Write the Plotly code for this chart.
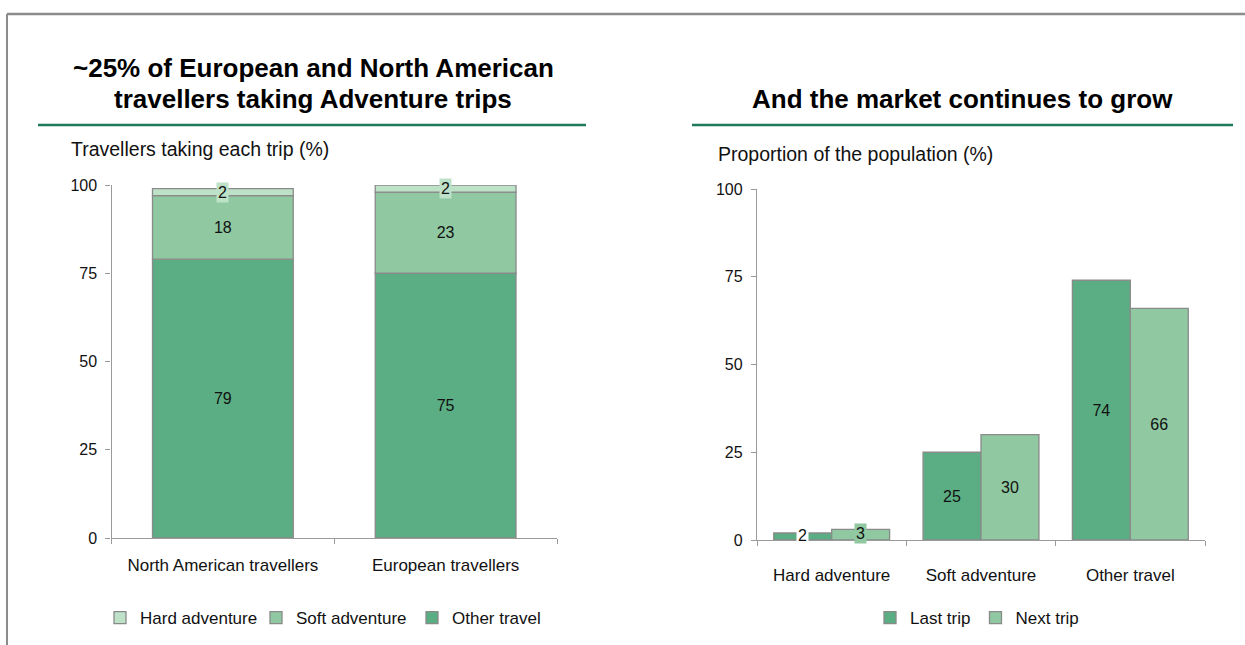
import numpy as np
import plotly.graph_objects as go

# ---- data -------------------------------------------------------------
regions = ["North American travellers", "European travellers"]
other_travel = [79, 75]
soft_adventure = [18, 23]
hard_adventure = [2, 2]

trip_types = ["Hard adventure", "Soft adventure", "Other travel"]
last_trip = [2, 25, 74]
next_trip = [3, 30, 66]

left_ticks = [0, 25, 50, 75, 100]
right_ticks = [0, 25, 50, 75, 100]

# ---- styling ----------------------------------------------------------
W, H = 1245, 645
FONT = "Liberation Sans, Arial, Helvetica, sans-serif"
C_OTHER = "#5BAE83"
C_SOFT = "#8FC8A1"
C_HARD = "#BEE2C8"
C_OUTLINE = "#8A8A8A"
C_AXIS = "#9A9A9A"
C_RULE = "#1F7A5A"
C_FRAME = "#8C8C8C"
TXT = "#111111"


def px(x):
    return x / W


def py(y):
    return 1 - y / H


fig = go.Figure()

# ---- left: stacked share of travellers ---------------------------------
stack_w = 0.632
base_soft = np.array(other_travel)
base_hard = base_soft + np.array(soft_adventure)

for name, vals, base, col in [
    ("Other travel", other_travel, [0, 0], C_OTHER),
    ("Soft adventure", soft_adventure, base_soft, C_SOFT),
    ("Hard adventure", hard_adventure, base_hard, C_HARD),
]:
    small = name == "Hard adventure"
    fig.add_trace(go.Bar(
        x=regions, y=vals, base=list(base), name=name,
        width=stack_w, offset=-stack_w / 2,
        marker=dict(color=col, line=dict(color=C_OUTLINE, width=1.3)),
        text=[str(v) for v in vals],
        textposition="none" if small else "inside",
        insidetextanchor="middle",
        textfont=dict(family=FONT, size=16, color=TXT),
        constraintext="none",
        xaxis="x", yaxis="y", legend="legend",
        hoverinfo="skip",
    ))

# small hard-adventure values get a label box over the top of the stack
for i, (b, v) in enumerate(zip(base_hard, hard_adventure)):
    fig.add_annotation(
        x=i, y=b + v / 2, xref="x", yref="y", text=str(v), showarrow=False,
        font=dict(family=FONT, size=16, color=TXT),
        bgcolor=C_HARD, borderpad=1,
    )

# ---- right: last trip vs next trip -------------------------------------
grp_w = 0.388
small_cat = [c == "Hard adventure" for c in trip_types]
for name, vals, off, col, lab_bg in [
    ("Last trip", last_trip, -grp_w, C_OTHER, "white"),
    ("Next trip", next_trip, 0.0, C_SOFT, C_SOFT),
]:
    fig.add_trace(go.Bar(
        x=trip_types, y=vals, name=name,
        width=grp_w, offset=off,
        marker=dict(color=col, line=dict(color=C_OUTLINE, width=1.3)),
        text=[str(v) for v in vals],
        textposition=["none" if s else "inside" for s in small_cat],
        insidetextanchor="middle",
        textfont=dict(family=FONT, size=16, color=TXT),
        constraintext="none",
        xaxis="x2", yaxis="y2", legend="legend2",
        hoverinfo="skip",
    ))
    for i, (v, s) in enumerate(zip(vals, small_cat)):
        if s:
            fig.add_annotation(
                x=i + off + grp_w / 2, y=v / 2 + 0.3, xref="x2", yref="y2",
                text=str(v), showarrow=False,
                font=dict(family=FONT, size=16, color=TXT),
                bgcolor=lab_bg, borderpad=1,
            )

axis_common = dict(
    showline=True, linecolor=C_AXIS, linewidth=1.3,
    ticks="outside", ticklen=5, tickcolor=C_AXIS, tickwidth=1.3,
    showgrid=False, zeroline=False, fixedrange=True, automargin=False,
    tickfont=dict(family=FONT, size=16, color=TXT),
)
cat_font = dict(family=FONT, size=17, color=TXT)

fig.update_layout(
    width=W, height=H, autosize=False,
    margin=dict(l=0, r=0, t=0, b=0, pad=0, autoexpand=False),
    paper_bgcolor="white", plot_bgcolor="white",
    barmode="overlay",
    font=dict(family=FONT, color=TXT),
    xaxis=dict(domain=[px(111.5), px(557)], range=[-0.5, 1.5],
               type="category", tickson="boundaries", anchor="y",
               ticklabelstandoff=11, **{**axis_common, "tickfont": cat_font}),
    yaxis=dict(domain=[py(538), py(185)], range=[0, 100], anchor="x",
               tickvals=left_ticks, ticklabelstandoff=5, **axis_common),
    xaxis2=dict(domain=[px(757), px(1205)], range=[-0.5, 2.5],
                type="category", tickson="boundaries", anchor="y2",
                ticklabelstandoff=19, **{**axis_common, "tickfont": cat_font}),
    yaxis2=dict(domain=[py(540), py(189)], range=[0, 100], anchor="x2",
                tickvals=right_ticks, ticklabelstandoff=5, **axis_common),
    legend=dict(orientation="h", x=px(100), y=py(618), yanchor="middle",
                xanchor="left", traceorder="reversed",
                entrywidth=111, entrywidthmode="pixels",
                font=dict(family=FONT, size=17, color=TXT),
                itemclick=False, itemdoubleclick=False),
    legend2=dict(orientation="h", x=px(870), y=py(618), yanchor="middle",
                 xanchor="left", traceorder="normal",
                 font=dict(family=FONT, size=17, color=TXT),
                 itemclick=False, itemdoubleclick=False),
    showlegend=True,
)

# ---- frame, headings and rules -----------------------------------------
fig.add_shape(type="line", xref="paper", yref="paper",
              x0=px(7), x1=1, y0=py(14), y1=py(14),
              line=dict(color=C_FRAME, width=2.5))
fig.add_shape(type="line", xref="paper", yref="paper",
              x0=px(7), x1=px(7), y0=py(14), y1=0,
              line=dict(color=C_FRAME, width=2))
for x0, x1 in [(38, 586), (692, 1233)]:
    fig.add_shape(type="line", xref="paper", yref="paper",
                  x0=px(x0), x1=px(x1), y0=py(125), y1=py(125),
                  line=dict(color=C_RULE, width=2.5))

title_left = ["~25% of European and North American",
              "travellers taking Adventure trips"]
for line, yy in zip(title_left, [68, 99]):
    fig.add_annotation(
        x=px(313), y=py(yy), xref="paper", yref="paper", showarrow=False,
        text=f"<b>{line}</b>",
        font=dict(family=FONT, size=26, color="black"),
        xanchor="center", yanchor="middle",
    )
fig.add_annotation(
    x=px(962), y=py(99), xref="paper", yref="paper", showarrow=False,
    text="<b>And the market continues to grow</b>",
    font=dict(family=FONT, size=26, color="black"),
    xanchor="center", yanchor="middle",
)
fig.add_annotation(
    x=px(69), y=py(149), xref="paper", yref="paper", showarrow=False,
    text="Travellers taking each trip (%)",
    font=dict(family=FONT, size=19.5, color=TXT),
    xanchor="left", yanchor="middle",
)
fig.add_annotation(
    x=px(716), y=py(154), xref="paper", yref="paper", showarrow=False,
    text="Proportion of the population (%)",
    font=dict(family=FONT, size=19.5, color=TXT),
    xanchor="left", yanchor="middle",
)

fig.write_html("out.html")
